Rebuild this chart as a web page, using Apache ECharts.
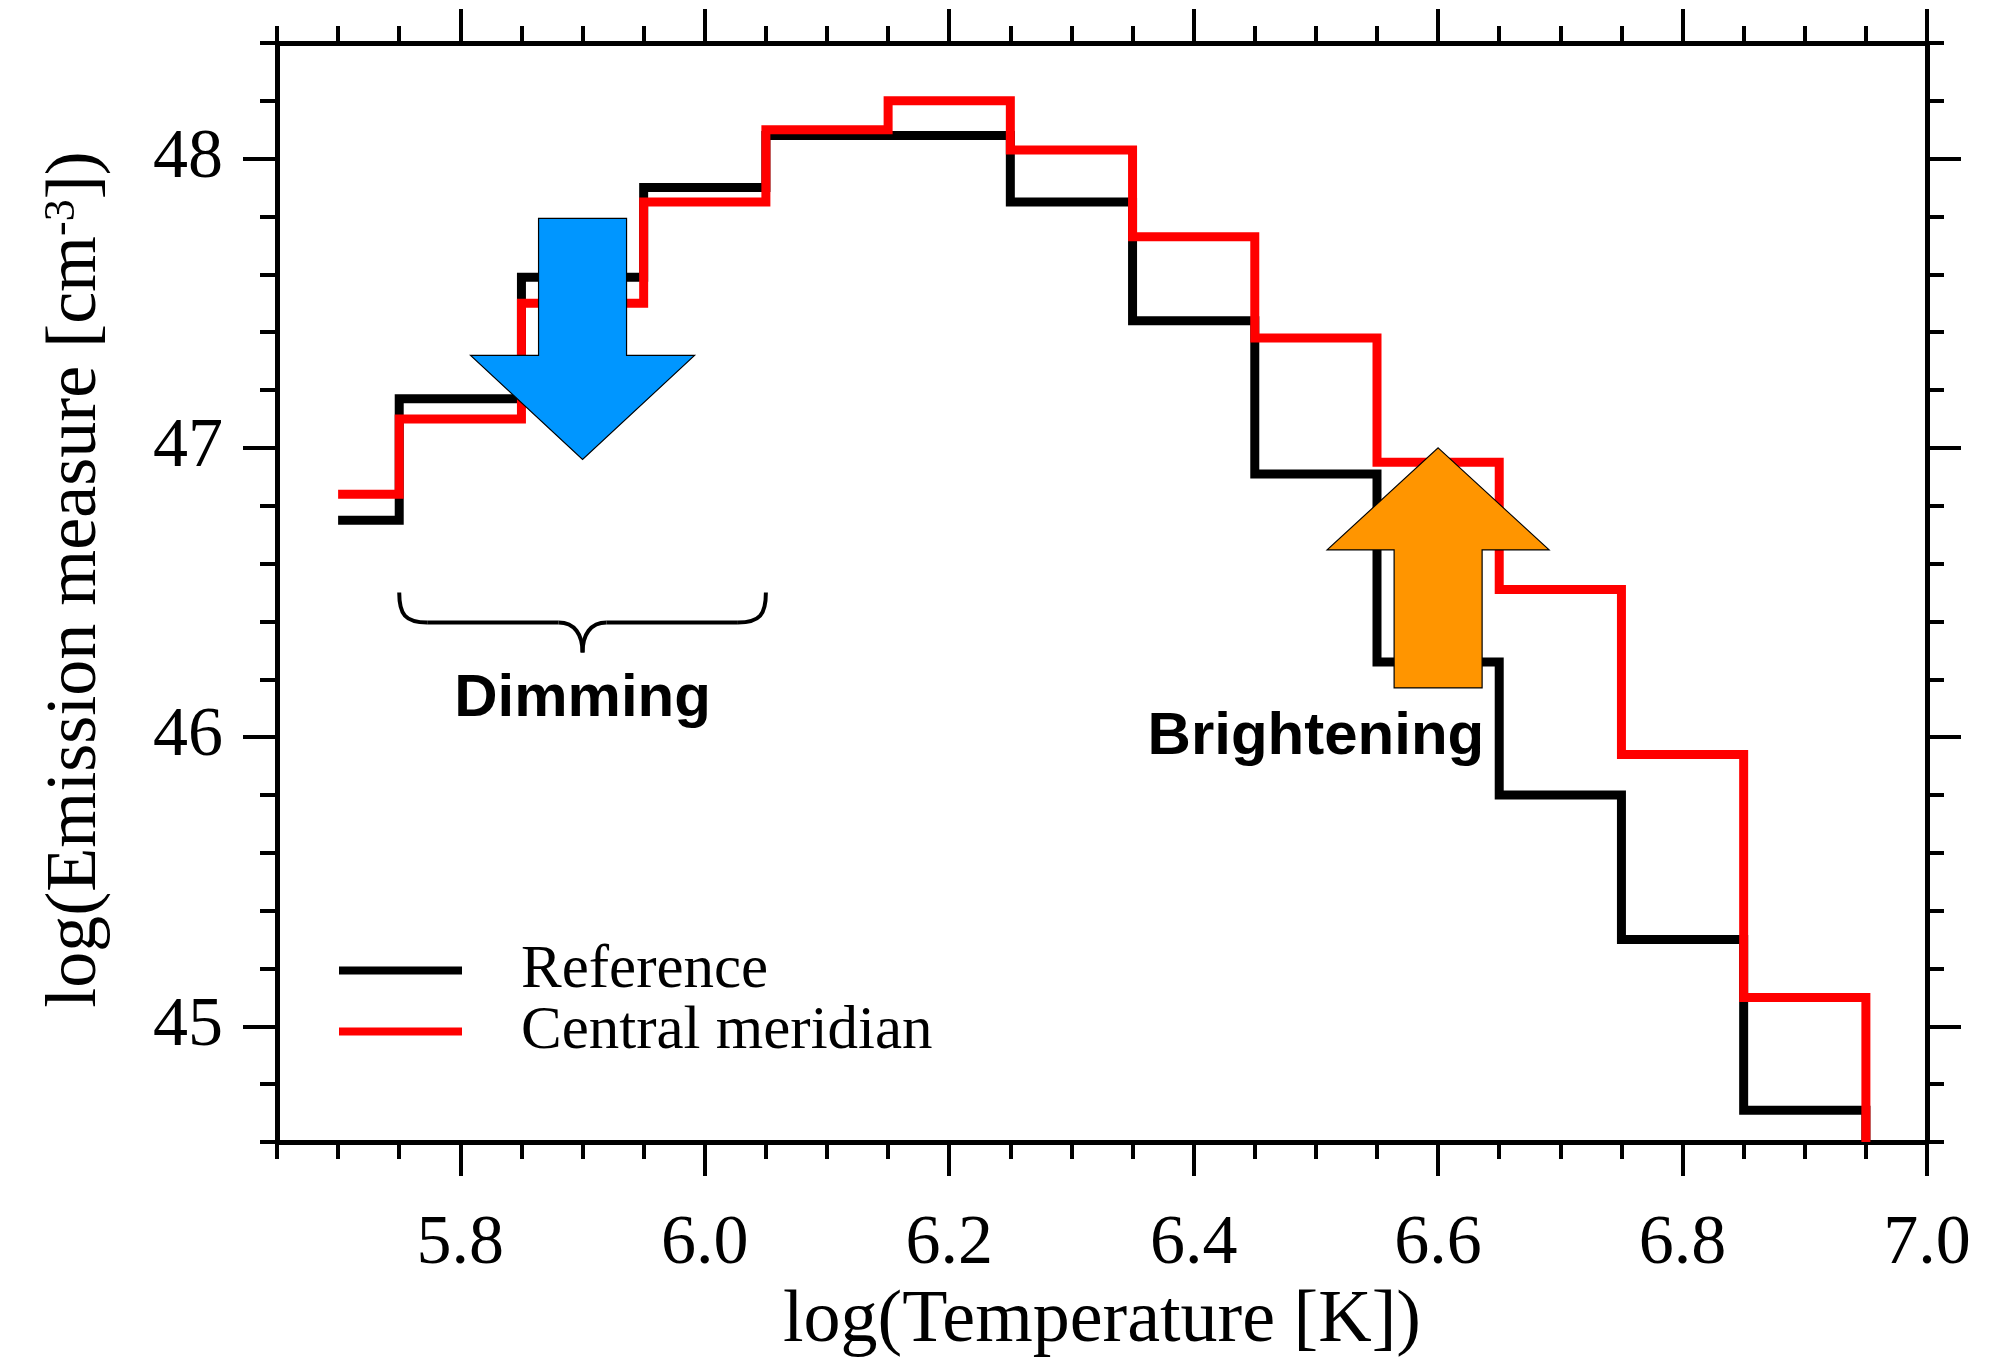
<!DOCTYPE html>
<html>
<head>
<meta charset="utf-8">
<script src="https://cdn.jsdelivr.net/npm/echarts@6/dist/echarts.min.js"></script>
<style>
  html, body { margin: 0; padding: 0; background: #ffffff; }
  #chart { width: 1992px; height: 1360px; }
</style>
</head>
<body>
<div id="chart"></div>
<script>
// Emission measure distribution, log(EM) per log(T) bin (bin width 0.1)
const logT = [5.7, 5.8, 5.9, 6.0, 6.1, 6.2, 6.3, 6.4, 6.5, 6.6, 6.7, 6.8, 6.9];
const emReference = [46.75, 47.17, 47.59, 47.90, 48.08, 48.08, 47.85, 47.44, 46.91, 46.26, 45.80, 45.30, 44.71];
const emCentral   = [46.84, 47.10, 47.50, 47.85, 48.10, 48.20, 48.03, 47.73, 47.38, 46.95, 46.51, 45.94, 45.10];

const seriesNames = ['Reference', 'Central meridian'];
const xTickLabels = [5.8, 6.0, 6.2, 6.4, 6.6, 6.8, 7.0];
const yTickLabels = [45, 46, 47, 48];

const X_MIN = 5.65, X_MAX = 7.0, X_MINOR = 0.05;
const Y_MIN = 44.6, Y_MAX = 48.4, Y_MINOR = 0.2;

const SERIF = "'Liberation Serif', 'Times New Roman', serif";
const SANS = "'Liberation Sans', Arial, sans-serif";

function minorTicks(min, max, step) {
  const out = [];
  const n = Math.round((max - min) / step);
  for (let k = 0; k <= n; k++) out.push(+(min + k * step).toFixed(3));
  return out;
}
const xMinorTicks = minorTicks(X_MIN, X_MAX, X_MINOR);
const yMinorTicks = minorTicks(Y_MIN, Y_MAX, Y_MINOR);

// Histogram outline: each value spans its bin; the first bin starts at its centre,
// the last one drops to the bottom of the frame.
function histogramPath(centres, values) {
  const half = 0.05;
  const pts = [];
  for (let i = 0; i < centres.length; i++) {
    const lo = i === 0 ? centres[i] : +(centres[i] - half).toFixed(3);
    const hi = +(centres[i] + half).toFixed(3);
    pts.push([lo, values[i]], [hi, values[i]]);
  }
  pts.push([+(centres[centres.length - 1] + half).toFixed(3), Y_MIN]);
  return pts;
}

const AXIS_W = 5, TICK_W = 4, MAJOR_LEN = 34, MINOR_LEN = 17;

function frameAxis(position, min, max, ticks, len, extra) {
  return Object.assign({
    type: 'value',
    position: position,
    min: min,
    max: max,
    gridIndex: 0,
    axisLine: { show: true, onZero: false, lineStyle: { color: '#000', width: AXIS_W } },
    axisTick: { show: true, inside: false, length: len, customValues: ticks,
                lineStyle: { color: '#000', width: TICK_W } },
    axisLabel: { show: false },
    splitLine: { show: false },
    minorTick: { show: false },
    minorSplitLine: { show: false }
  }, extra || {});
}

const chart = echarts.init(document.getElementById('chart'), null, { renderer: 'canvas' });

const option = {
  animation: false,
  backgroundColor: '#ffffff',
  grid: { left: 277, top: 43, width: 1650, height: 1099, containLabel: false, outerBoundsMode: 'none' },
  legend: {
    show: true,
    orient: 'vertical',
    left: 339,
    top: 940,
    padding: 0,
    itemGap: 0,
    itemWidth: 123,
    itemHeight: 8,
    icon: 'rect',
    textStyle: { fontFamily: SERIF, fontSize: 61, color: '#000', lineHeight: 58, padding: [0, 0, 0, 54] },
    data: seriesNames
  },
  xAxis: [
    frameAxis('bottom', X_MIN, X_MAX, xTickLabels, MAJOR_LEN, {
      axisLabel: {
        show: true, customValues: xTickLabels, margin: 68,
        formatter: v => v.toFixed(1),
        fontFamily: SERIF, fontSize: 70, color: '#000'
      },
      name: 'log(Temperature [K])',
      nameLocation: 'middle',
      nameGap: 142,
      nameTextStyle: { fontFamily: SERIF, fontSize: 74, color: '#000' }
    }),
    frameAxis('bottom', X_MIN, X_MAX, xMinorTicks, MINOR_LEN, { axisLine: { show: false, onZero: false } }),
    frameAxis('top', X_MIN, X_MAX, xTickLabels, MAJOR_LEN),
    frameAxis('top', X_MIN, X_MAX, xMinorTicks, MINOR_LEN, { axisLine: { show: false, onZero: false } })
  ],
  yAxis: [
    frameAxis('left', Y_MIN, Y_MAX, yTickLabels, MAJOR_LEN, {
      axisLabel: {
        show: true, customValues: yTickLabels, margin: 54,
        formatter: v => String(Math.round(v)),
        fontFamily: SERIF, fontSize: 70, color: '#000'
      },
      name: '{n|log(Emission measure [cm}{s|-3}{n|])}',
      nameLocation: 'middle',
      nameGap: 165,
      nameTextStyle: {
        fontFamily: SERIF, fontSize: 72, color: '#000',
        padding: [0, 0, 0, 26],
        rich: {
          n: { fontFamily: SERIF, fontSize: 72, color: '#000', lineHeight: 72 },
          s: { fontFamily: SERIF, fontSize: 44, color: '#000', verticalAlign: 'top', lineHeight: 20 }
        }
      }
    }),
    frameAxis('left', Y_MIN, Y_MAX, yMinorTicks, MINOR_LEN, { axisLine: { show: false, onZero: false } }),
    frameAxis('right', Y_MIN, Y_MAX, yTickLabels, MAJOR_LEN),
    frameAxis('right', Y_MIN, Y_MAX, yMinorTicks, MINOR_LEN, { axisLine: { show: false, onZero: false } })
  ],
  series: [
    {
      name: seriesNames[0],
      type: 'line',
      xAxisIndex: 0, yAxisIndex: 0,
      data: histogramPath(logT, emReference),
      symbol: 'none',
      showSymbol: false,
      color: '#000000',
      itemStyle: { color: '#000000' },
      lineStyle: { color: '#000000', width: 9, join: 'miter', cap: 'butt' },
      z: 3
    },
    {
      name: seriesNames[1],
      type: 'line',
      xAxisIndex: 0, yAxisIndex: 0,
      data: histogramPath(logT, emCentral),
      symbol: 'none',
      showSymbol: false,
      color: '#ff0000',
      itemStyle: { color: '#ff0000' },
      lineStyle: { color: '#ff0000', width: 9, join: 'miter', cap: 'butt' },
      z: 4
    }
  ]
};

chart.setOption(option);

// Annotations anchored in data coordinates
const dimmingArrowTip = [5.9, 46.96];
const brighteningArrowTip = [6.6, 47.0];
const dimmingBrace = { from: 5.75, to: 6.05, top: 46.50 };
const dimmingLabel = { text: 'Dimming', at: [5.9, 46.13] };
const brighteningLabel = { text: 'Brightening', at: [6.5, 46.0] };

const px = p => chart.convertToPixel({ gridIndex: 0 }, p);

function downArrow(tip, fill) {
  const [tx, ty] = px(tip);
  return {
    type: 'polygon', z: 100,
    shape: { points: [
      [tx - 44, ty - 241], [tx + 44, ty - 241], [tx + 44, ty - 104], [tx + 112, ty - 104],
      [tx, ty], [tx - 112, ty - 104], [tx - 44, ty - 104]
    ] },
    style: { fill: fill, stroke: '#000', lineWidth: 1.2 }
  };
}
function upArrow(tip, fill) {
  const [tx, ty] = px(tip);
  return {
    type: 'polygon', z: 100,
    shape: { points: [
      [tx, ty], [tx + 111, ty + 102], [tx + 44, ty + 102], [tx + 44, ty + 240],
      [tx - 44, ty + 240], [tx - 44, ty + 102], [tx - 111, ty + 102]
    ] },
    style: { fill: fill, stroke: '#000', lineWidth: 1.2 }
  };
}
function brace(b) {
  const [x1, yTop] = px([b.from, b.top]);
  const [x2] = px([b.to, b.top]);
  const xm = (x1 + x2) / 2;
  const yBar = yTop + 30, yCusp = yTop + 60;
  const st = { stroke: '#000', lineWidth: 4, fill: null };
  const curve = (a, c1, c2, e) => ({
    type: 'bezierCurve', z: 100,
    shape: { x1: a[0], y1: a[1], cpx1: c1[0], cpy1: c1[1], cpx2: c2[0], cpy2: c2[1], x2: e[0], y2: e[1] },
    style: st
  });
  const line = (a, e) => ({ type: 'line', z: 100, shape: { x1: a[0], y1: a[1], x2: e[0], y2: e[1] }, style: st });
  return [
    curve([x1, yTop], [x1, yTop + 22], [x1 + 6, yBar], [x1 + 28, yBar]),
    line([x1 + 28, yBar], [xm - 24, yBar]),
    curve([xm - 24, yBar], [xm - 8, yBar], [xm, yBar + 12], [xm, yCusp]),
    curve([xm, yCusp], [xm, yBar + 12], [xm + 8, yBar], [xm + 24, yBar]),
    line([xm + 24, yBar], [x2 - 28, yBar]),
    curve([x2 - 28, yBar], [x2 - 6, yBar], [x2, yTop + 22], [x2, yTop])
  ];
}
function label(l) {
  const [x, y] = px(l.at);
  return {
    type: 'text', z: 101, x: x, y: y,
    style: {
      text: l.text, fill: '#000',
      font: 'bold 60px ' + SANS,
      align: 'center', verticalAlign: 'middle',
      textAlign: 'center', textVerticalAlign: 'middle'
    }
  };
}

chart.setOption({
  graphic: [].concat(
    [downArrow(dimmingArrowTip, '#0096ff'), upArrow(brighteningArrowTip, '#ff9500')],
    brace(dimmingBrace),
    [label(dimmingLabel), label(brighteningLabel)]
  )
});
</script>
</body>
</html>
